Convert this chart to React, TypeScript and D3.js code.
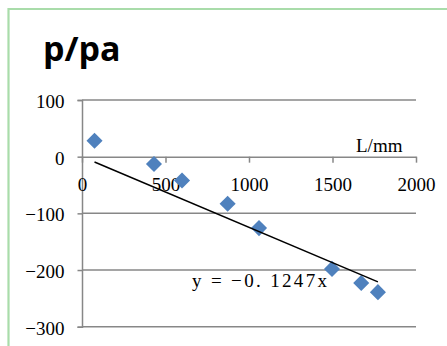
import React, { useEffect, useRef } from 'react';
import * as d3 from 'd3';

// measured points: L (mm) vs p (pa)
const lengths = [75, 431, 599, 872, 1060, 1497, 1672, 1772];
const pressures = [28, -13, -42, -83, -126, -198, -223, -239];
const xTicks = [0, 500, 1000, 1500, 2000];
const yTicks = [100, 0, -100, -200, -300];
const slope = -0.1247;

const W = 447;
const H = 346;

const App: React.FC = () => {
  const ref = useRef<SVGSVGElement>(null);

  useEffect(() => {
    const { current: node } = ref;
    if (!node) return;
    const svg = d3.select(node);
    svg.selectAll('*').remove();

    const x = d3.scaleLinear().domain([0, 2000]).range([82, 416]);
    const y = d3.scaleLinear().domain([-300, 100]).range([326.7, 100]);

    // green frame (top + left only visible)
    svg
      .append('path')
      .attr('d', `M8.5,${H} V9 H${W}`)
      .attr('fill', 'none')
      .attr('stroke', '#a9dcaa')
      .attr('stroke-width', 2.2);

    svg
      .append('text')
      .text('p/pa')
      .attr('x', 43)
      .attr('y', 61)
      .attr('font-family', 'Open Sans, sans-serif')
      .attr('font-weight', 700)
      .attr('font-size', 34)
      .attr('fill', '#000');

    const grid = '#878787';

    // horizontal gridlines
    svg
      .append('g')
      .selectAll('line')
      .data(yTicks.filter((d) => d !== 0))
      .join('line')
      .attr('x1', x(0))
      .attr('x2', x(2000))
      .attr('y1', (d) => y(d))
      .attr('y2', (d) => y(d))
      .attr('stroke', grid)
      .attr('stroke-width', 1.5);

    const fmt = (d: d3.NumberValue) => d3.format('d')(d as number).replace('-', '−');

    // y axis at x = 0
    const yAxis = svg
      .append('g')
      .attr('transform', `translate(${x(0)},0)`)
      .call(d3.axisLeft(y).tickValues(yTicks).tickSize(4.5).tickPadding(13).tickFormat(fmt));
    yAxis.select('.domain').attr('stroke', grid).attr('stroke-width', 1.5);
    yAxis.selectAll('.tick line').attr('stroke', grid).attr('stroke-width', 1.5);
    yAxis
      .selectAll('.tick text')
      .attr('font-family', 'Liberation Serif, serif')
      .attr('font-size', 19)
      .attr('fill', '#000')
      .attr('dy', '0.4em');

    // x axis at y = 0
    const xAxis = svg
      .append('g')
      .attr('transform', `translate(0,${y(0)})`)
      .call(
        d3
          .axisBottom(x)
          .tickValues(xTicks)
          .tickSize(6)
          .tickSizeOuter(0)
          .tickPadding(10)
          .tickFormat(fmt)
      );
    xAxis.select('.domain').attr('stroke', grid).attr('stroke-width', 1.5);
    xAxis.selectAll('.tick line').attr('stroke', grid).attr('stroke-width', 1.5);
    xAxis
      .selectAll('.tick text')
      .attr('font-family', 'Liberation Serif, serif')
      .attr('font-size', 19)
      .attr('fill', '#000')
      .attr('dy', '0.95em');

    svg
      .append('text')
      .text('L/mm')
      .attr('x', 356)
      .attr('y', 151.5)
      .attr('font-family', 'Liberation Serif, serif')
      .attr('font-size', 19)
      .attr('fill', '#000');

    // points
    const pts = lengths.map((l, i) => ({ l, p: pressures[i] }));
    const diamond = d3.symbol().type(d3.symbolDiamond2).size(165);
    svg
      .append('g')
      .selectAll('path')
      .data(pts)
      .join('path')
      .attr('d', diamond as any)
      .attr('transform', (d) => `translate(${x(d.l)},${y(d.p)})`)
      .attr('fill', '#4f81bd');

    // linear trend through origin
    const [lo, hi] = d3.extent(lengths) as [number, number];
    const trend = d3
      .line<number>()
      .x((d) => x(d))
      .y((d) => y(slope * d));
    svg
      .append('path')
      .datum([lo, hi])
      .attr('d', trend)
      .attr('fill', 'none')
      .attr('stroke', '#000')
      .attr('stroke-width', 1.5);

    svg
      .append('text')
      .text('y = −0. 1247x')
      .attr('x', 192)
      .attr('y', 287)
      .attr('textLength', 135)
      .attr('lengthAdjust', 'spacing')
      .attr('font-family', 'Liberation Serif, serif')
      .attr('font-size', 19)
      .attr('fill', '#000');
  }, []);

  return (
    <svg
      ref={ref}
      width={W}
      height={H}
      style={{ position: 'absolute', left: 0, top: 0, background: '#fff' }}
    />
  );
};

export default App;
